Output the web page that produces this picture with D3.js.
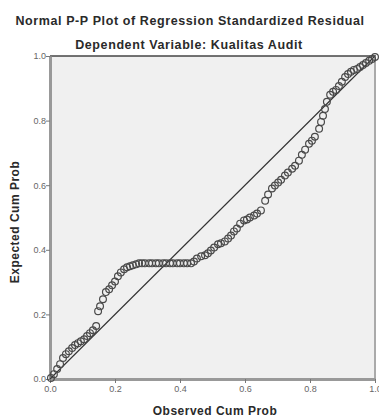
<!DOCTYPE html>
<html>
<head>
<meta charset="utf-8">
<script src="https://cdn.jsdelivr.net/npm/d3@7"></script>
<style>
  body { margin: 0; background: #fff; }
  text { font-family: "Liberation Sans", Arial, sans-serif; }
</style>
</head>
<body>
<div id="chart"></div>
<script>
const title = "Normal P-P Plot of Regression Standardized Residual";
const subtitle = "Dependent Variable: Kualitas Audit";
const xLabel = "Observed Cum Prob";
const yLabel = "Expected Cum Prob";
const ticks = [0, 0.2, 0.4, 0.6, 0.8, 1.0];

// observed / expected cumulative probabilities
const observed = [
  0.003, 0.012, 0.022, 0.031, 0.040, 0.049, 0.058, 0.068, 0.077, 0.086, 0.095, 0.105, 0.114, 0.123, 0.132, 0.142,
  0.148, 0.154, 0.163, 0.172, 0.182, 0.191, 0.200, 0.209, 0.218, 0.228, 0.237, 0.246, 0.255, 0.265, 0.274,
  0.283, 0.292, 0.305, 0.314, 0.326, 0.335, 0.348, 0.357, 0.369, 0.378, 0.391, 0.400, 0.412, 0.422, 0.434,
  0.443, 0.452, 0.465, 0.477, 0.486, 0.495, 0.505, 0.517, 0.526, 0.538, 0.548, 0.557, 0.566, 0.575, 0.585,
  0.597, 0.606, 0.615, 0.628, 0.637, 0.649, 0.662, 0.671, 0.683, 0.692, 0.702, 0.711, 0.723, 0.732, 0.745,
  0.754, 0.766, 0.775, 0.785, 0.797, 0.806, 0.815, 0.828, 0.834, 0.840, 0.846, 0.852, 0.862, 0.871, 0.880,
  0.889, 0.898, 0.908, 0.917, 0.926, 0.935, 0.945, 0.954, 0.963, 0.972, 0.982, 0.991, 1.000
];
const expected = [
  0.003, 0.015, 0.031, 0.046, 0.065, 0.077, 0.086, 0.096, 0.105, 0.111, 0.117, 0.123, 0.133, 0.142, 0.151, 0.164,
  0.210, 0.225, 0.247, 0.269, 0.278, 0.290, 0.302, 0.318, 0.330, 0.340, 0.346, 0.349, 0.352, 0.355, 0.358,
  0.358, 0.358, 0.358, 0.358, 0.358, 0.358, 0.358, 0.358, 0.358, 0.358, 0.358, 0.358, 0.358, 0.358, 0.358,
  0.364, 0.373, 0.380, 0.383, 0.389, 0.398, 0.407, 0.417, 0.420, 0.426, 0.435, 0.444, 0.457, 0.466, 0.481,
  0.491, 0.494, 0.500, 0.506, 0.512, 0.522, 0.552, 0.571, 0.590, 0.599, 0.608, 0.617, 0.630, 0.639, 0.651,
  0.660, 0.676, 0.694, 0.710, 0.728, 0.738, 0.750, 0.775, 0.796, 0.815, 0.836, 0.858, 0.880, 0.889, 0.895,
  0.907, 0.920, 0.935, 0.944, 0.951, 0.957, 0.960, 0.966, 0.972, 0.978, 0.985, 0.991, 0.997
];

const width = 379, height = 418;
const margin = {top: 56, right: 4, bottom: 39, left: 50};

const svg = d3.select("#chart")
    .append("svg")
    .attr("width", width)
    .attr("height", height);

const x = d3.scaleLinear().domain([0, 1]).range([margin.left, width - margin.right]);
const y = d3.scaleLinear().domain([0, 1]).range([height - margin.bottom, margin.top]);

// plot background
svg.append("rect")
    .attr("x", x(0)).attr("y", y(1))
    .attr("width", x(1) - x(0)).attr("height", y(0) - y(1))
    .attr("fill", "#f0f0f0");

// frame: dark top, grey right
svg.append("line")
    .attr("x1", x(0)).attr("x2", x(1) + 1).attr("y1", y(1)).attr("y2", y(1))
    .attr("stroke", "#444").attr("stroke-width", 1.5);
svg.append("line")
    .attr("x1", x(1)).attr("x2", x(1)).attr("y1", y(1)).attr("y2", y(0))
    .attr("stroke", "#aaa").attr("stroke-width", 2);

const xAxis = d3.axisBottom(x).tickValues(ticks).tickFormat(d3.format(".1f")).tickSize(4).tickSizeOuter(0);
const yAxis = d3.axisLeft(y).tickValues(ticks).tickFormat(d3.format(".1f")).tickSize(4).tickSizeOuter(0);

const gx = svg.append("g")
    .attr("transform", `translate(0,${y(0)})`)
    .call(xAxis);
const gy = svg.append("g")
    .attr("transform", `translate(${x(0)},0)`)
    .call(yAxis);

[gx, gy].forEach(g => {
    g.select(".domain").attr("stroke", "#999").attr("stroke-width", 3);
    g.selectAll(".tick line").attr("stroke", "#777");
    g.selectAll(".tick text")
        .attr("fill", "#666")
        .style("font-size", "9px");
});
gy.selectAll(".tick text").attr("x", -4);
gx.selectAll(".tick text").attr("y", 7);

// reference diagonal
svg.append("line")
    .attr("x1", x(0)).attr("y1", y(0))
    .attr("x2", x(1)).attr("y2", y(1))
    .attr("stroke", "#333").attr("stroke-width", 1.1);

// points
svg.append("g")
    .selectAll("circle")
    .data(observed.map((o, i) => [o, expected[i]]))
    .enter()
    .append("circle")
    .attr("cx", d => x(d[0]))
    .attr("cy", d => y(d[1]))
    .attr("r", 3.4)
    .attr("fill", "none")
    .attr("stroke", "#4a4a4a")
    .attr("stroke-width", 1.2);

svg.append("text")
    .attr("x", 190).attr("y", 25)
    .attr("text-anchor", "middle")
    .style("font-size", "12.5px").style("font-weight", "bold")
    .style("letter-spacing", "0.6px")
    .attr("fill", "#2a2a2a")
    .text(title);

svg.append("text")
    .attr("x", 189).attr("y", 49)
    .attr("text-anchor", "middle")
    .style("font-size", "12.5px").style("font-weight", "bold")
    .style("letter-spacing", "0.6px")
    .attr("fill", "#2a2a2a")
    .text(subtitle);

svg.append("text")
    .attr("x", 215).attr("y", 415)
    .attr("text-anchor", "middle")
    .style("font-size", "12px").style("font-weight", "bold")
    .style("letter-spacing", "0.5px")
    .attr("fill", "#2a2a2a")
    .text(xLabel);

svg.append("text")
    .attr("transform", `translate(19,222) rotate(-90)`)
    .attr("text-anchor", "middle")
    .style("font-size", "12px").style("font-weight", "bold")
    .style("letter-spacing", "0.5px")
    .attr("fill", "#2a2a2a")
    .text(yLabel);
</script>
</body>
</html>
